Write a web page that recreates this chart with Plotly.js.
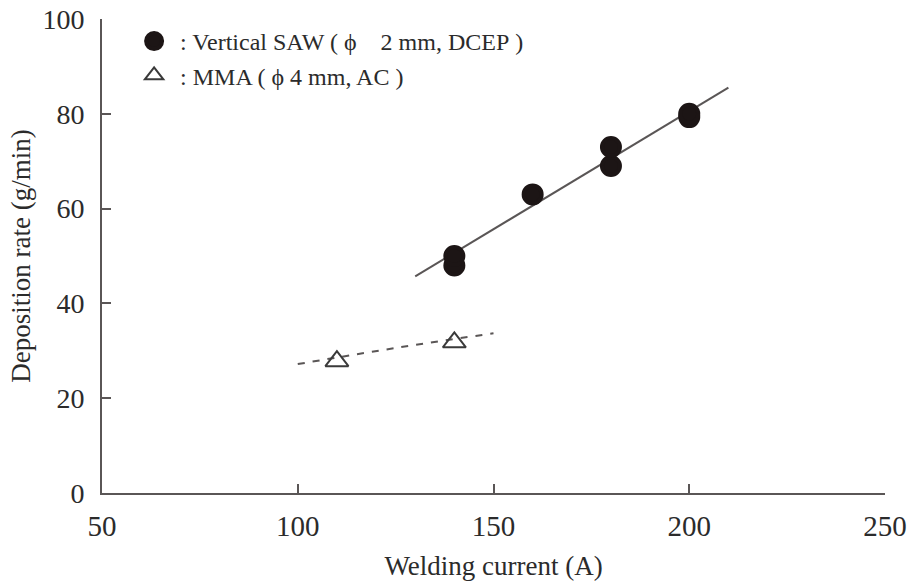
<!DOCTYPE html>
<html>
<head>
<meta charset="utf-8">
<script src="https://cdn.plot.ly/plotly-3.0.1.min.js"></script>
<style>html,body{margin:0;padding:0;background:#fff;}#chart{width:910px;height:581px;}</style>
</head>
<body>
<div id="chart"></div>
<script>
// SAW data (Vertical SAW, phi 2 mm, DCEP)
var sawCurrent = [140, 140, 160, 180, 180, 200, 200];
var sawRate    = [48, 50, 63, 69, 73, 79.3, 80];
// SAW fitted line
var sawFitX = [130, 210];
var sawFitY = [45.7, 85.5];
// MMA data (phi 4 mm, AC)
var mmaCurrent = [110, 140];
var mmaRate    = [27.8, 31.8];
// MMA fitted curve
var mmaFitX = [100, 125, 150];
var mmaFitY = [27.2, 30.6, 33.7];

var xTicks = [50, 100, 150, 200, 250];
var yTicks = [0, 20, 40, 60, 80, 100];

var serif = "Liberation Serif, Times New Roman, serif";
var ink = "#2b2b2b";
var lineCol = "#5a5656";
var sp = "\u00a0";

var traces = [
  {x: sawFitX, y: sawFitY, mode: 'lines', line: {color: lineCol, width: 2}, showlegend: false, hoverinfo: 'skip'},
  {x: mmaFitX, y: mmaFitY, mode: 'lines', line: {color: lineCol, width: 2, dash: '7px,8px', shape: 'spline'}, showlegend: false, hoverinfo: 'skip'},
  {x: sawCurrent, y: sawRate, mode: 'markers', name: sp + ': Vertical SAW (' + sp + '\u03d5' + sp + sp + sp + sp + '2 mm, DCEP' + sp + ')',
   legendgroup: 'a', marker: {symbol: 'circle', size: 18, color: '#1c1515', line: {width: 4, color: '#1c1515'}}},
  {x: mmaCurrent, y: mmaRate, mode: 'markers', name: sp + ': MMA (' + sp + '\u03d5 4 mm, AC' + sp + ')',
   legendgroup: 'b', marker: {symbol: 'triangle-up-open', size: 20, color: '#3a3a3a', line: {width: 2}}}
];

var layout = {
  width: 910, height: 581,
  margin: {l: 102, r: 25, t: 19, b: 88},
  paper_bgcolor: '#fff', plot_bgcolor: '#fff',
  font: {family: serif, color: ink, size: 22},
  showlegend: true,
  legend: {x: 0.041, y: 1.0, xanchor: 'left', yanchor: 'top', bgcolor: 'rgba(0,0,0,0)',
           font: {family: serif, size: 24, color: ink}, traceorder: 'grouped', tracegroupgap: 0,
           itemwidth: 30},
  xaxis: {range: [50, 250], tickvals: xTicks, ticktext: xTicks.map(String), ticks: 'inside', ticklen: 9, tickwidth: 2,
          tickcolor: lineCol, showline: true, linecolor: lineCol, linewidth: 2, showgrid: false, zeroline: false,
          tickfont: {family: serif, size: 29, color: ink}, ticklabelstandoff: 6,
          title: {text: 'Welding current (A)', font: {family: serif, size: 27, color: ink}, standoff: 16}},
  yaxis: {range: [0, 100], tickvals: yTicks, ticktext: yTicks.map(String), ticks: 'inside', ticklen: 9, tickwidth: 2,
          tickcolor: lineCol, showline: true, linecolor: lineCol, linewidth: 2, showgrid: false, zeroline: false,
          tickfont: {family: serif, size: 28, color: ink}, ticklabelstandoff: 10,
          title: {text: 'Deposition rate (g/min)', font: {family: serif, size: 27, color: ink}, standoff: 4}}
};

Plotly.newPlot('chart', traces, layout, {staticPlot: true, displayModeBar: false});
</script>
</body>
</html>
